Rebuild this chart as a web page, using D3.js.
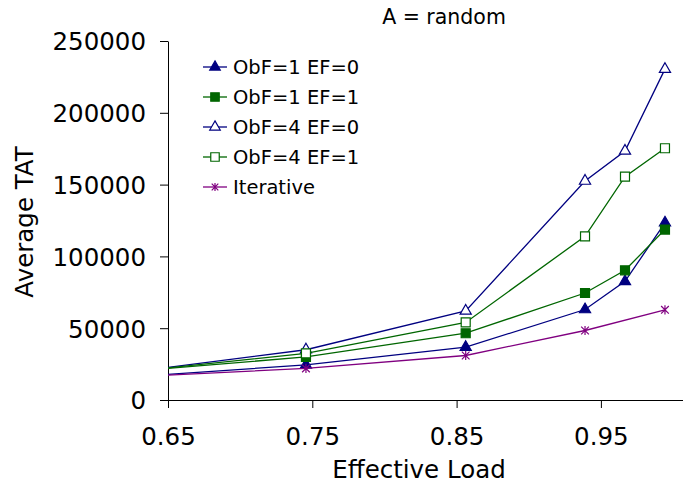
<!DOCTYPE html>
<html>
<head>
<meta charset="utf-8">
<script src="https://cdn.jsdelivr.net/npm/d3@7"></script>
<style>
  body { margin: 0; background: #fff; }
  text { font-family: "DejaVu Sans", Verdana, sans-serif; fill: #000; }
</style>
</head>
<body>
<div id="chart"></div>
<script>
// effective load values (first point lies left of the visible axis)
const loads = [0.60, 0.7456, 0.8563, 0.939, 0.9667, 0.9944]
const iterLoads = [0.60, 0.7456, 0.8563, 0.939, 0.9944]

const obf1ef0 = [14300, 24500, 36800, 63000, 82600, 123400]
const obf1ef1 = [17800, 30000, 46500, 74500, 90300, 118700]
const obf4ef0 = [16300, 35000, 62000, 152500, 173400, 230400]
const obf4ef1 = [17000, 32500, 54000, 114000, 155500, 175300]
const iterative = [14850, 22000, 31000, 48400, 62800]

const xTicks = [0.65, 0.75, 0.85, 0.95]
const yTicks = [0, 50000, 100000, 150000, 200000, 250000]

const series = [
    {name: "ObF=1 EF=0", x: loads, y: obf1ef0, color: "#000080", marker: "triangle", fill: true},
    {name: "ObF=1 EF=1", x: loads, y: obf1ef1, color: "#006600", marker: "square", fill: true},
    {name: "ObF=4 EF=0", x: loads, y: obf4ef0, color: "#000080", marker: "triangle", fill: false},
    {name: "ObF=4 EF=1", x: loads, y: obf4ef1, color: "#006600", marker: "square", fill: false},
    {name: "Iterative", x: iterLoads, y: iterative, color: "#800080", marker: "star", fill: false}
]

const width = 683, height = 486
const margin = {left: 168, right: 0, top: 41, bottom: 86}

const svg = d3.select("#chart").append("svg")
    .attr("width", width).attr("height", height)

const x = d3.scaleLinear()
    .domain([0.65, 0.65 + (width - margin.left) / 1443])
    .range([margin.left, width - margin.right])
const y = d3.scaleLinear()
    .domain([0, 250000])
    .range([height - margin.bottom, margin.top])

svg.append("clipPath").attr("id", "plot-clip")
    .append("rect")
    .attr("x", margin.left).attr("y", 0)
    .attr("width", width - margin.left).attr("height", height - margin.bottom + 5)

// axes
const xAxis = svg.append("g")
    .attr("transform", `translate(0,${y(0)})`)
    .call(d3.axisBottom(x).tickValues(xTicks).tickFormat(d3.format(".2f")).tickSize(8).tickSizeOuter(0))
xAxis.select(".domain").attr("stroke", "#000")
xAxis.selectAll(".tick line").attr("stroke", "#000")
xAxis.selectAll(".tick text").attr("font-size", 24.5).attr("dy", "1.4em")

const yAxis = svg.append("g")
    .attr("transform", `translate(${margin.left},0)`)
    .call(d3.axisLeft(y).tickValues(yTicks).tickFormat(d3.format("d")).tickSize(8).tickSizeOuter(0))
yAxis.select(".domain").attr("stroke", "#000")
yAxis.selectAll(".tick line").attr("stroke", "#000")
yAxis.selectAll(".tick text").attr("font-size", 24.5).attr("x", -22).attr("dy", "0.36em")

// lines
const plot = svg.append("g").attr("clip-path", "url(#plot-clip)")
const line = d3.line().x(d => x(d[0])).y(d => y(d[1]))

const markerPath = (type, size) => {
    if (type === "triangle") return d3.symbol(d3.symbolTriangle, size * 6)()
    if (type === "square") return d3.symbol(d3.symbolSquare, size * 9)()
    const r = size * 0.55
    return `M${-r},${-r}L${r},${r}M${-r},${r}L${r},${-r}M0,${-r * 1.2}L0,${r * 1.2}`
}

series.forEach(s => {
    const pts = s.x.map((v, i) => [v, s.y[i]])
    plot.append("path")
        .attr("d", line(pts))
        .attr("fill", "none")
        .attr("stroke", s.color)
        .attr("stroke-width", 1.3)
    plot.selectAll(null)
        .data(pts.filter(p => p[0] >= x.domain()[0]))
        .enter()
        .append("path")
        .attr("transform", p => `translate(${x(p[0])},${y(p[1])})`)
        .attr("d", markerPath(s.marker, s.marker === "star" ? 7 : 9))
        .attr("fill", s.fill ? s.color : (s.marker === "star" ? "none" : "#fff"))
        .attr("stroke", s.color)
        .attr("stroke-width", 1.2)
})

// legend
const legend = svg.append("g")
series.forEach((s, i) => {
    const ly = 67 + i * 30
    legend.append("line")
        .attr("x1", 203).attr("x2", 227).attr("y1", ly).attr("y2", ly)
        .attr("stroke", s.color).attr("stroke-width", 1.3)
    legend.append("path")
        .attr("transform", `translate(215,${ly})`)
        .attr("d", markerPath(s.marker, s.marker === "star" ? 6 : 8))
        .attr("fill", s.fill ? s.color : (s.marker === "star" ? "none" : "#fff"))
        .attr("stroke", s.color)
        .attr("stroke-width", 1.2)
    legend.append("text")
        .attr("x", 233).attr("y", ly)
        .attr("dy", "0.36em")
        .attr("font-size", 19.5)
        .text(s.name)
})

// titles
svg.append("text")
    .attr("x", 444).attr("y", 24)
    .attr("text-anchor", "middle")
    .attr("font-size", 20.5)
    .text("A = random")

svg.append("text")
    .attr("x", 419).attr("y", 478)
    .attr("text-anchor", "middle")
    .attr("font-size", 24.5)
    .text("Effective Load")

svg.append("text")
    .attr("transform", "translate(33,222) rotate(-90)")
    .attr("text-anchor", "middle")
    .attr("font-size", 24.5)
    .text("Average TAT")
</script>
</body>
</html>
